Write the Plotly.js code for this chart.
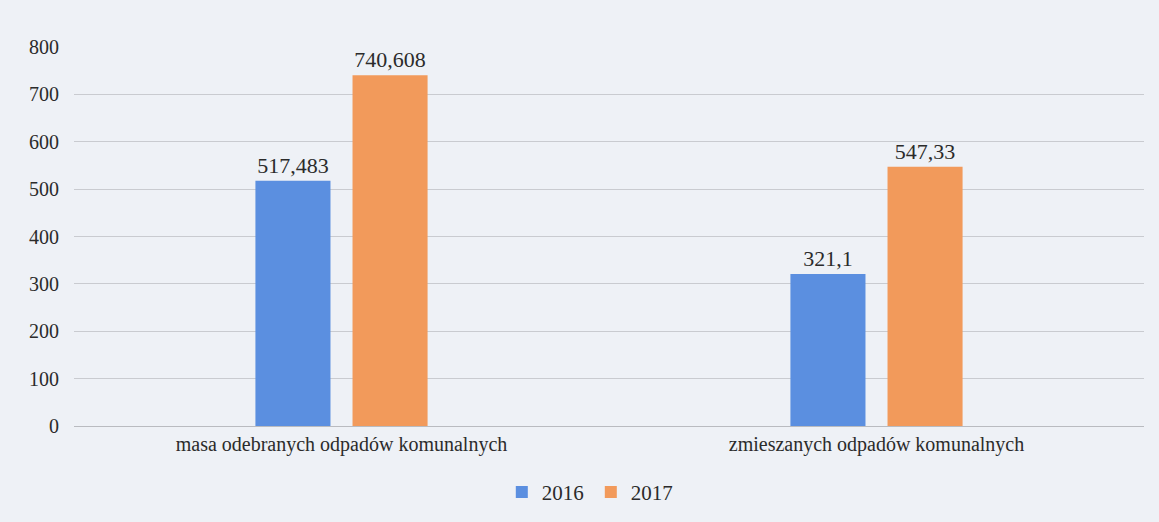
<!DOCTYPE html>
<html>
<head>
<meta charset="utf-8">
<script src="https://cdn.plot.ly/plotly-3.0.1.min.js"></script>
<style>html,body{margin:0;padding:0;background:#eef1f6;}#chart{width:1159px;height:522px;}</style>
</head>
<body>
<div id="chart"></div>
<script>
var categories = ["masa odebranych odpadów komunalnych", "zmieszanych odpadów komunalnych"];
var series2016 = [517.483, 321.1];
var series2017 = [740.608, 547.33];
var seriesNames = ["2016", "2017"];
var tickValues = [0, 100, 200, 300, 400, 500, 600, 700, 800];

function fmt(v){ return String(v).replace('.', ','); }

var FAM = "Liberation Serif";
var TXT = "#2b2b2b";

var traces = [
  {type: "bar", name: seriesNames[0], x: categories, y: series2016,
   text: series2016.map(fmt), textposition: "outside", cliponaxis: false,
   textfont: {family: FAM, size: 22, color: TXT},
   marker: {color: "#5b8fe0"}, hoverinfo: "none"},
  {type: "bar", name: seriesNames[1], x: categories, y: series2017,
   text: series2017.map(fmt), textposition: "outside", cliponaxis: false,
   textfont: {family: FAM, size: 22, color: TXT},
   marker: {color: "#f29a5b"}, hoverinfo: "none"}
];

var layout = {
  width: 1159, height: 522,
  margin: {l: 74, r: 15, t: 47, b: 96, autoexpand: false},
  paper_bgcolor: "#eef1f6", plot_bgcolor: "#eef1f6",
  font: {family: FAM, size: 20, color: TXT},
  barmode: "group", bargap: 0.637, bargroupgap: 0.227,
  showlegend: true,
  legend: {orientation: "h", x: 0.483, xanchor: "center", y: -0.175, yanchor: "middle",
           entrywidth: 44, entrywidthmode: "pixels",
           font: {family: FAM, size: 21, color: TXT}, itemwidth: 30, bgcolor: "rgba(0,0,0,0)"},
  xaxis: {type: "category", showgrid: false, showline: false, zeroline: false, ticks: "", automargin: false,
          tickfont: {family: FAM, size: 20, color: TXT}, ticklabelstandoff: 4},
  yaxis: {range: [0, 800], tickvals: tickValues, showgrid: true, gridcolor: "#c9cbd0", gridwidth: 1, automargin: false,
          zeroline: true, zerolinecolor: "#b9bbc0", showline: false, ticks: "",
          tickfont: {family: FAM, size: 20, color: TXT}, ticklabelstandoff: 14}
};

Plotly.newPlot("chart", traces, layout, {displayModeBar: false, staticPlot: true});
</script>
</body>
</html>
